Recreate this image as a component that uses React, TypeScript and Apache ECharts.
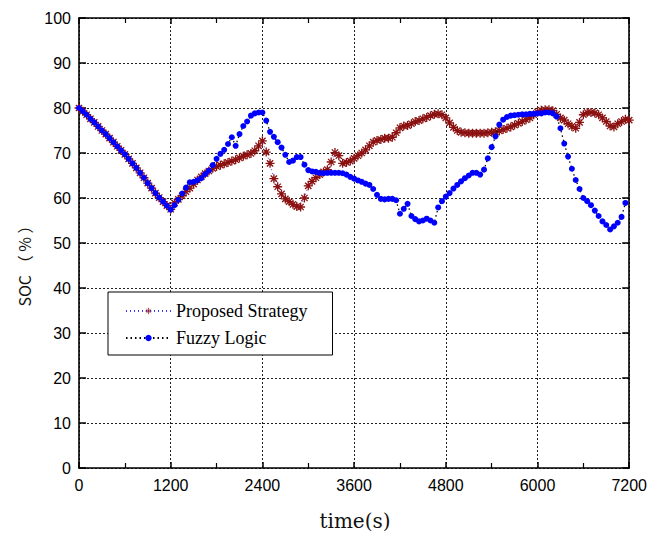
import React, { useEffect, useRef } from 'react';
import * as echarts from 'echarts';

const timeStepSeconds = 50;
const xTicks = [0, 1200, 2400, 3600, 4800, 6000, 7200];
const yTicks = [0, 10, 20, 30, 40, 50, 60, 70, 80, 90, 100];
const seriesNames = ['Proposed Strategy', 'Fuzzy Logic'];

// SOC (%) sampled every 50 s, from t = 0 s
const proposedSOC = [
  80.0, 79.3, 78.5, 77.6, 76.8, 75.9, 75.0, 74.2, 73.3, 72.4, 71.5, 70.6, 69.7, 68.7, 67.7, 66.7, 65.6, 64.5, 63.3, 62.2, 61.1, 60.1, 59.2, 58.3, 57.5,
  58.9, 59.7, 60.5, 61.4, 62.2, 63.1, 64.0, 64.7, 65.4, 66.0, 66.6, 67.0, 67.3, 67.6, 67.9, 68.2, 68.5, 68.9, 69.3, 69.6, 69.9, 70.5, 71.6, 72.7,
  70.2, 67.7, 64.3,
  62.5, 60.9, 59.8, 59.2, 58.6, 58.1, 58.0, 60.0, 62.7, 63.7, 64.5, 65.2, 65.8, 66.3, 68.0, 70.1, 69.4, 67.7, 67.9, 68.2, 68.8, 69.4, 70.0, 70.7, 71.6, 72.4, 72.8, 73.0, 73.3,
  73.3, 73.5, 74.5, 75.6, 76.0, 76.1, 76.5, 77.0, 77.2, 77.6, 77.9, 78.3, 78.6, 78.7, 78.5, 77.8, 76.7, 75.7, 75.0, 74.6, 74.5, 74.4, 74.4, 74.4, 74.4,
  74.4, 74.5, 74.6, 74.7, 74.9, 75.2, 75.5, 75.8, 76.2, 76.6, 77.0, 77.4, 77.8, 78.5, 79.1, 79.5, 79.6, 79.6, 79.4, 78.6, 77.8, 77.3, 76.5, 75.9, 75.5,
  76.8, 78.5, 79.0, 79.0, 78.9, 78.5, 77.8, 77.0, 76.0, 75.8, 76.5, 77.0, 77.5, 77.3,
];

const fuzzySOC = [
  80.0, 79.3, 78.5, 77.6, 76.8, 75.9, 75.0, 74.2, 73.3, 72.4, 71.5, 70.6, 69.7, 68.7, 67.7, 66.7, 65.6, 64.5, 63.3, 62.2, 61.1, 60.1, 59.2, 58.3, 57.4,
  58.4, 59.6, 61.0, 62.3, 63.5, 63.6, 63.9, 64.4, 65.3, 66.1, 67.3, 68.7, 69.8, 70.7, 72.0, 73.5, 71.6, 74.2, 76.0, 77.0, 78.3, 78.8, 79.0, 79.0, 77.2,
  74.7, 73.6, 72.4, 71.2, 69.6, 68.0, 68.3, 69.1, 69.1, 67.4, 66.2,
  65.9, 65.8, 65.6, 65.5, 65.6, 65.6, 65.6, 65.6, 65.5, 65.2, 64.7, 64.3, 63.9, 63.6, 63.2, 62.9, 62.0, 60.7, 59.8, 59.7,
  59.8, 59.8, 59.5, 56.5, 57.6, 58.7, 56.0, 55.3, 54.8, 55.0, 55.4, 55.0, 54.5, 57.9, 59.3, 60.3, 61.1, 62.1, 62.9, 63.7,
  64.4, 65.0, 65.6, 65.6, 65.2, 66.3, 68.8, 71.3, 73.7, 76.3, 77.4, 78.0, 78.3, 78.4, 78.5, 78.6, 78.6, 78.7, 78.7, 78.8,
  78.8, 79.0, 79.0, 78.8, 78.1, 75.5, 72.1, 69.2, 66.5, 64.0, 62.0, 60.0, 59.3, 58.4, 57.2, 56.0, 54.8, 54.0, 53.0, 53.7,
  54.5, 55.8, 58.9,
];

const toPairs = (values: number[]) => values.map((v, i) => [i * timeStepSeconds, v]);

const asterisk = 'path://M10 0 L10 20 M0 10 L20 10 M3 3 L17 17 M17 3 L3 17';

export default function App() {
  const ref = useRef<HTMLDivElement>(null);
  useEffect(() => {
    if (!ref.current) return;
    const chart = echarts.init(ref.current, undefined, { renderer: 'svg' });
    const axisLabelFont = { fontFamily: 'Liberation Sans, Arial, sans-serif', fontSize: 16, color: '#000' };
    const gridLine = { show: true, lineStyle: { color: '#222', type: [2, 2] as any, width: 1 } };
    const axisLine = { show: true, onZero: false, lineStyle: { color: '#000', width: 1.6 } };
    chart.setOption({
      animation: false,
      backgroundColor: '#fff',
      grid: { left: 79, right: 19, top: 18, bottom: 66 },
      legend: {
        orient: 'vertical',
        left: 108,
        top: 292,
        data: [
          { name: seriesNames[0], icon: 'inherit', itemStyle: { color: '#8b1010', borderColor: '#8b1010', borderWidth: 0.7 } },
          { name: seriesNames[1], icon: 'inherit', itemStyle: { color: '#0000ff', borderWidth: 0 } },
        ],
        backgroundColor: '#fff',
        borderColor: '#000',
        borderWidth: 1,
        padding: [10, 25, 8, 17],
        itemGap: 9,
        itemWidth: 45,
        itemHeight: 8,
        textStyle: { fontFamily: 'Liberation Serif, Times New Roman, serif', fontSize: 18, color: '#000' },
      },
      xAxis: [
        {
          type: 'value', min: 0, max: 7200, interval: 1200,
          axisLine, axisTick: { show: true, inside: true, length: 6, lineStyle: { color: '#000', width: 1.5 } },
          minorTick: { show: true, splitNumber: 2, length: 5, lineStyle: { color: '#000', width: 1.2 } },
          axisLabel: { ...axisLabelFont, margin: 9, formatter: (v: number) => (xTicks.includes(v) ? String(v) : '') },
          splitLine: gridLine,
        },
        {
          type: 'value', position: 'top', min: 0, max: 7200, interval: 1200,
          axisLine, axisTick: { show: true, inside: true, length: 6, lineStyle: { color: '#000', width: 1.5 } },
          minorTick: { show: true, splitNumber: 2, length: 5, lineStyle: { color: '#000', width: 1.2 } },
          axisLabel: { show: false }, splitLine: { show: false },
        },
      ],
      yAxis: [
        {
          type: 'value', min: 0, max: 100, interval: 10,
          axisLine, axisTick: { show: true, inside: true, length: 7, lineStyle: { color: '#000', width: 1.5 } },
          axisLabel: { ...axisLabelFont, margin: 8, formatter: (v: number) => (yTicks.includes(v) ? String(v) : '') },
          splitLine: gridLine,
        },
        {
          type: 'value', position: 'right', min: 0, max: 100, interval: 10,
          axisLine, axisTick: { show: true, inside: true, length: 7, lineStyle: { color: '#000', width: 1.5 } },
          axisLabel: { show: false }, splitLine: { show: false },
        },
      ],
      graphic: [
        {
          type: 'text', x: 355, y: 521,
          style: { text: 'time(s)', font: '20px "DejaVu Serif", "Liberation Serif", serif', fill: '#111', align: 'center', verticalAlign: 'middle' },
        },
        {
          type: 'text', x: 24, y: 262, rotation: Math.PI / 2,
          style: { text: 'SOC （ % ）', font: '16px "Noto Sans CJK SC", sans-serif', fill: '#111', align: 'center', verticalAlign: 'middle' },
        },
      ],
      series: [
        {
          name: seriesNames[0],
          type: 'line',
          data: toPairs(proposedSOC),
          symbol: asterisk,
          symbolSize: 9,
          showAllSymbol: true,
          lineStyle: { color: '#3a3aff', width: 1, type: [1, 3] as any },
          itemStyle: { color: '#8b1010', borderColor: '#8b1010', borderWidth: 1.3 },
          z: 2,
        },
        {
          name: seriesNames[1],
          type: 'line',
          data: toPairs(fuzzySOC),
          symbol: 'circle',
          symbolSize: 6,
          showAllSymbol: true,
          lineStyle: { color: '#000', width: 1.3, type: [1.5, 3] as any },
          itemStyle: { color: '#0000ff', borderWidth: 0 },
          z: 3,
        },
      ],
    });
    return () => chart.dispose();
  }, []);
  return <div ref={ref} style={{ position: 'absolute', left: 0, top: 0, width: 650, height: 534 }} />;
}
